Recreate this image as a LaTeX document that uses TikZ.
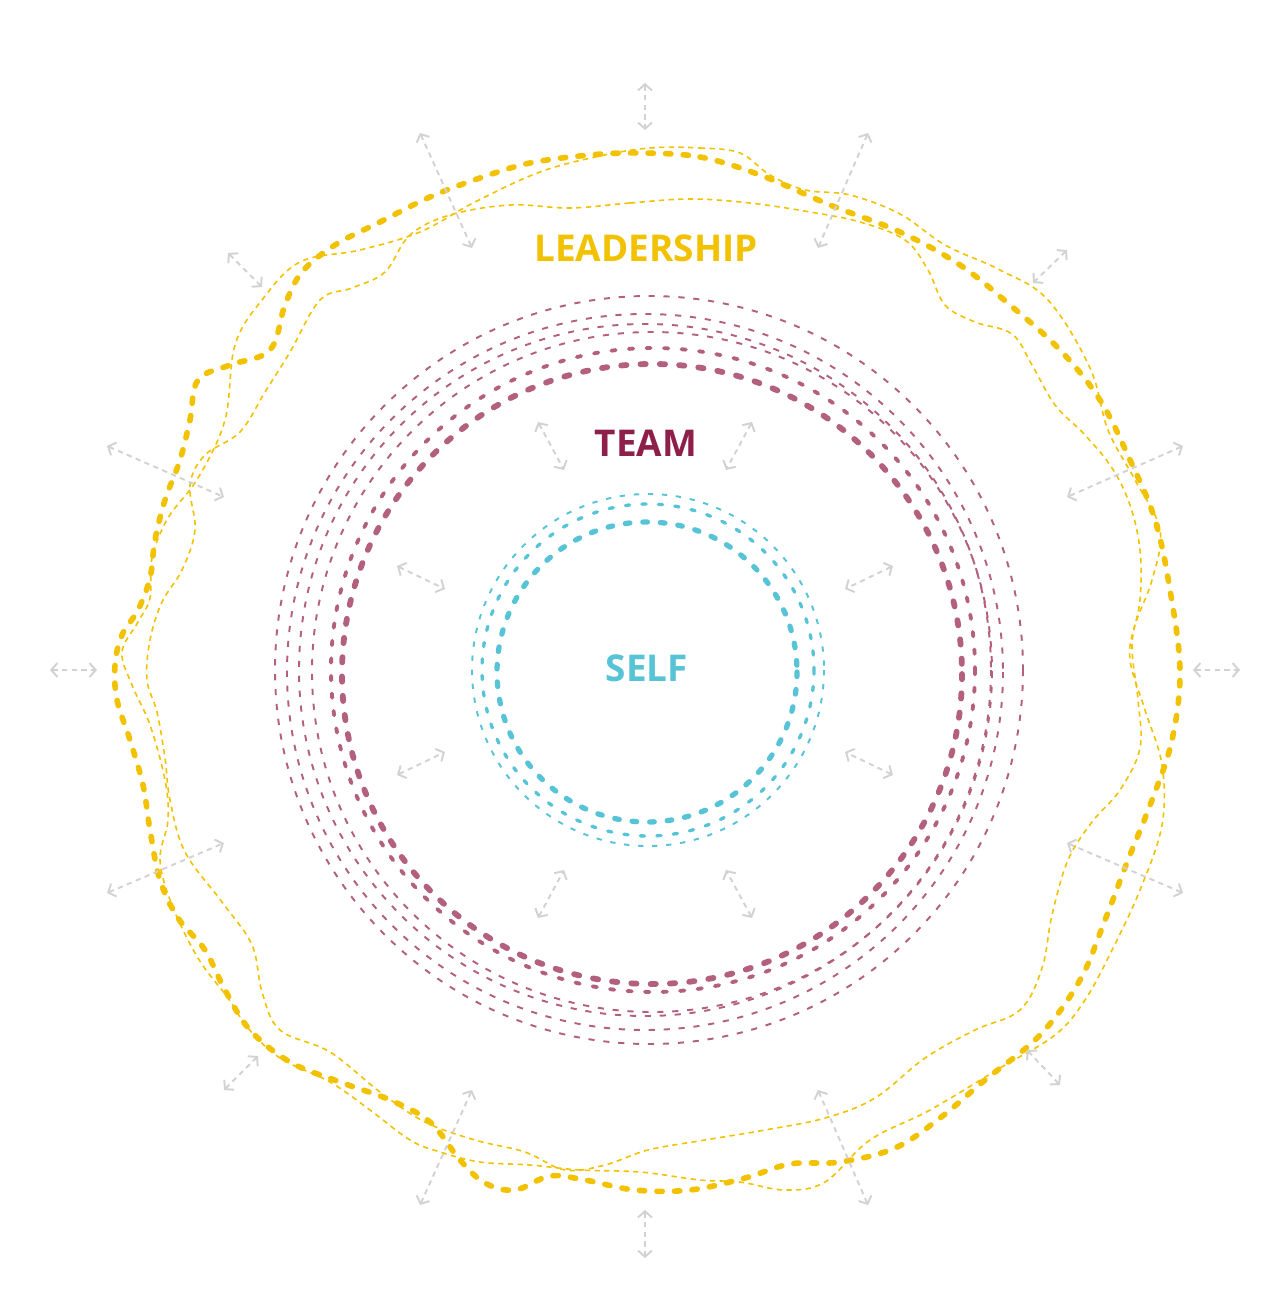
\documentclass[tikz,border=0pt]{standalone}
\usepackage{fontspec}
\setmainfont{Open Sans}
\usetikzlibrary{arrows.meta}

\definecolor{selfcol}{HTML}{56C3D6}
\definecolor{teamcol}{HTML}{B3607F}
\definecolor{teamtxt}{HTML}{8E1F4B}
\definecolor{leadcol}{HTML}{F2C100}
\definecolor{flexcol}{HTML}{D2D2D2}

\begin{document}
\begin{tikzpicture}[
  x=0.02cm, y=-0.02cm,
  lbl/.style={font=\bfseries\fontsize{21}{24}\selectfont, inner sep=0pt},
  selfthick/.style={draw=selfcol, line width=3pt, line cap=round, dash pattern=on 2.6pt off 7.4pt},
  selfmid/.style={draw=selfcol, line width=1.9pt, line cap=round, dash pattern=on 2.4pt off 7pt},
  selfthin/.style={draw=selfcol, line width=1.1pt, dash pattern=on 3pt off 5pt},
  teamthick/.style={draw=teamcol, line width=3.3pt, line cap=round, dash pattern=on 3pt off 8pt},
  teammid/.style={draw=teamcol, line width=2.2pt, line cap=round, dash pattern=on 2.5pt off 7.5pt},
  teamthin/.style={draw=teamcol, line width=1.1pt, dash pattern=on 3.5pt off 5pt},
  leadthick/.style={draw=leadcol, line width=3.2pt, line cap=round, dash pattern=on 3pt off 7pt},
  leadthin/.style={draw=leadcol, line width=0.9pt, dash pattern=on 3pt off 2.5pt},
  flex/.style={draw=flexcol, line width=1.1pt, dash pattern=on 3pt off 2.5pt,
    {Straight Barb[length=3.5pt,width=8pt]}-{Straight Barb[length=3.5pt,width=8pt]}}
]
\useasboundingbox (0,0) rectangle (1280,1311);

% self rings
\draw[selfthick] (647,672) circle[radius=150];
\draw[selfmid]   (648,670) circle[radius=166];
\draw[selfthin]  (648,670) circle[radius=176];

% team rings
\draw[teamthick] (652,674) circle[radius=310];
\draw[teammid]   (653,670) circle[radius=322];
\draw[teamthin]  (652,672) circle[radius=340];
\draw[teamthin]  (645,670) circle[radius=346];
\draw[teamthin]  (645,672) circle[radius=358];
\draw[teamthin]  (649,670) circle[radius=374];

% leadership rings
\draw[leadthick] plot[smooth cycle, tension=0.6] coordinates {
  (640,153) (700,157) (760,175) (830,205) (900,232) (960,265) (1010,305) (1060,350)
  (1100,400) (1130,460) (1155,520) (1170,590) (1180,670) (1172,740) (1152,800)
  (1128,860) (1105,920) (1080,980) (1040,1035) (985,1080) (940,1118) (895,1148)
  (840,1162) (790,1164) (745,1178) (690,1190) (635,1190) (585,1180) (550,1176)
  (515,1190) (485,1183) (460,1160) (430,1122) (390,1100) (340,1082) (290,1062)
  (250,1030) (225,990) (205,950) (178,918) (160,880) (150,830) (143,785) (130,740)
  (117,700) (115,665) (122,635) (138,610) (150,578) (155,540) (165,500) (180,460)
  (190,420) (198,380) (230,365) (270,350) (285,305) (302,272) (335,245) (380,222)
  (430,197) (480,178) (530,163) (590,155)};
\draw[leadthin] plot[smooth cycle, tension=0.6] coordinates {
  (570,208) (630,203) (690,199) (750,203) (810,212) (860,222) (905,240) (928,270)
  (945,305) (975,322) (1012,334) (1032,365) (1055,405) (1085,435) (1112,468)
  (1130,505) (1140,550) (1140,600) (1132,645) (1138,700) (1140,748) (1120,790)
  (1092,822) (1068,860) (1052,915) (1042,968) (1020,1010) (975,1030) (925,1058)
  (875,1098) (825,1118) (765,1130) (705,1140) (648,1150) (605,1165) (565,1170)
  (525,1152) (475,1140) (425,1122) (380,1092) (330,1052) (280,1030) (262,992)
  (252,945) (222,902) (185,852) (170,800) (165,758) (157,712) (147,680) (150,640)
  (162,602) (182,570) (195,530) (190,485) (205,455) (240,432) (265,392) (290,352)
  (320,300) (352,288) (385,272) (410,235) (450,215) (510,205)};
\draw[leadthin] plot[smooth cycle, tension=0.6] coordinates {
  (650,148) (700,148) (740,153) (770,175) (805,190) (850,195) (900,214) (945,245)
  (1000,270) (1048,300) (1090,368) (1108,430) (1135,480) (1160,530) (1152,580)
  (1135,625) (1130,660) (1145,710) (1162,765) (1162,825) (1140,890) (1112,950)
  (1085,1000) (1055,1035) (1000,1068) (930,1110) (870,1140) (825,1182) (785,1190)
  (740,1182) (700,1180) (640,1172) (580,1170) (530,1165) (480,1162) (440,1152)
  (410,1140) (370,1110) (330,1082) (280,1058) (248,1028) (228,998) (198,958)
  (172,905) (160,860) (168,820) (165,780) (150,725) (132,685) (122,652) (138,622)
  (150,598) (152,558) (168,518) (198,478) (225,420) (235,345) (262,300) (300,262)
  (360,250) (420,232) (475,202) (540,172) (600,156)};

% labels
\node[lbl, text=leadcol] (lead) at (646,248) {LEADERSHIP};
\node[lbl, text=teamtxt] (team) at (646,443) {TEAM};
\node[lbl, text=selfcol] (self) at (647,668) {SELF};

% flex arrows, outer ring
\foreach \ax/\ay/\bx/\by in {645/83/645/130, 420/133/472/248, 868/133/818/248,
    228/253/262/287, 1067/250/1033/283, 107/446/224/497, 1183/446/1067/497,
    50/670/97/670, 1193/670/1240/670, 107/893/224/843, 1183/893/1067/843,
    224/1090/258/1056, 1060/1085/1027/1050, 420/1205/472/1090, 868/1205/818/1090,
    645/1210/645/1258} {
  \coordinate (fa) at (\ax,\ay);
  \coordinate (fb) at (\bx,\by);
  \draw[flex] (fa) -- (fb);
}

% flex arrows, inner ring
\foreach \ax/\ay/\bx/\by in {538/422/564/470, 752/422/726/470, 397/566/445/589,
    893/566/845/589, 397/775/445/752, 893/775/845/752, 538/918/564/870,
    752/918/726/870} {
  \coordinate (fa) at (\ax,\ay);
  \coordinate (fb) at (\bx,\by);
  \draw[flex] (fa) -- (fb);
}

\end{tikzpicture}
\end{document}
